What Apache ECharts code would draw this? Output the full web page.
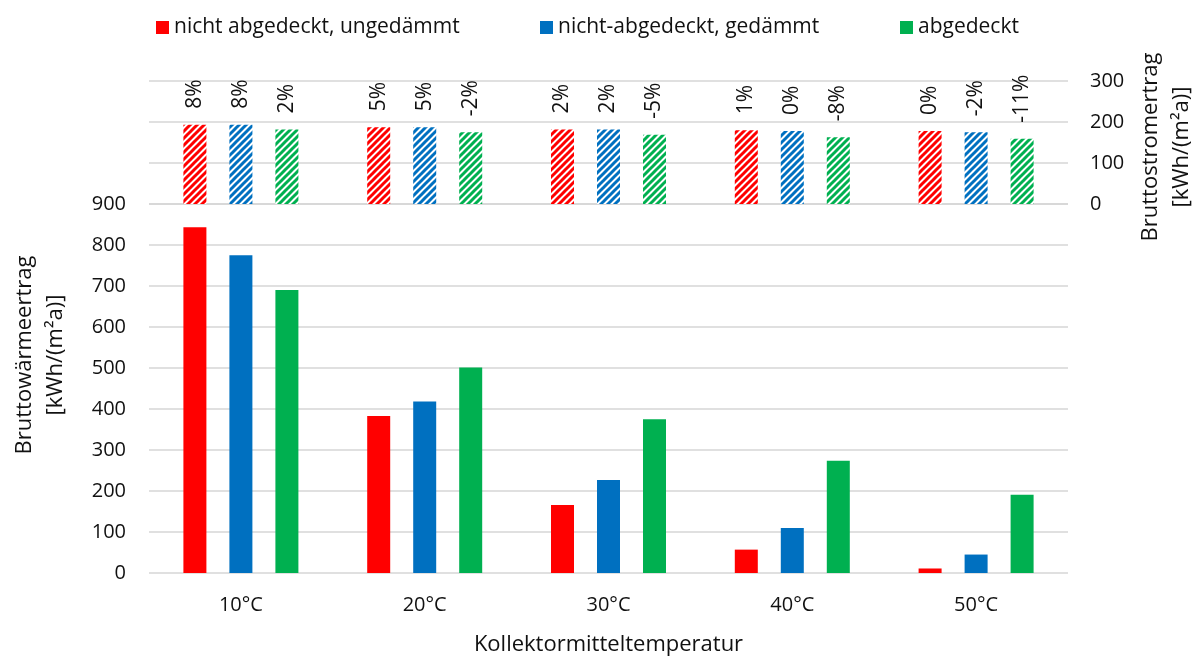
<!DOCTYPE html>
<html>
<head>
<meta charset="utf-8">
<script src="https://cdn.jsdelivr.net/npm/echarts@6/dist/echarts.min.js"></script>
<style>
  html, body { margin: 0; padding: 0; background: #fff; }
  #chart { width: 1198px; height: 657px; }
</style>
</head>
<body>
<div id="chart"></div>
<script>
// data
const categories = ["10°C", "20°C", "30°C", "40°C", "50°C"];
const names = ["nicht abgedeckt, ungedämmt", "nicht-abgedeckt, gedämmt", "abgedeckt"];
const colors = ["#ff0000", "#0070c0", "#00b050"];

// Bruttowärmeertrag [kWh/(m²a)]
const heatUncovBare = [843, 383, 166, 57, 11];
const heatUncovIns = [775, 418, 227, 110, 45];
const heatCovered = [690, 501, 375, 274, 191];

// Bruttostromertrag [kWh/(m²a)]
const elecUncovBare = [193, 187, 182, 180, 178];
const elecUncovIns = [193, 187, 182, 178, 175];
const elecCovered = [182, 175, 169, 163, 159];

// relative change labels
const pctUncovBare = ["8%", "5%", "2%", "1%", "0%"];
const pctUncovIns = ["8%", "5%", "2%", "0%", "-2%"];
const pctCovered = ["2%", "-2%", "-5%", "-8%", "-11%"];

const heatTicks = { min: 0, max: 900, interval: 100 };
const elecTicks = { min: 0, max: 300, interval: 100 };

const FONT = "Open Sans";
const gridColor = "#d6d6d6";

// diagonal hatch fill
function hatch(color) {
  const s = 7;
  const c = document.createElement("canvas");
  c.width = s;
  c.height = s;
  const g = c.getContext("2d");
  g.fillStyle = "#fff";
  g.fillRect(0, 0, s, s);
  g.strokeStyle = color;
  g.lineWidth = 3;
  g.beginPath();
  g.moveTo(-1, s + 1); g.lineTo(s + 1, -1);
  g.moveTo(-1, 1); g.lineTo(1, -1);
  g.moveTo(s - 1, s + 1); g.lineTo(s + 1, s - 1);
  g.stroke();
  return { image: c, repeat: "repeat" };
}

const heatData = [heatUncovBare, heatUncovIns, heatCovered];
const elecData = [elecUncovBare, elecUncovIns, elecCovered];
const pctData = [pctUncovBare, pctUncovIns, pctCovered];

const series = [];
heatData.forEach((d, i) => {
  series.push({
    name: names[i],
    type: "bar",
    xAxisIndex: 0,
    yAxisIndex: 0,
    barWidth: 23,
    barGap: "100%",
    data: d,
    itemStyle: { color: colors[i] },
  });
});
elecData.forEach((d, i) => {
  series.push({
    name: names[i],
    type: "bar",
    xAxisIndex: 1,
    yAxisIndex: 1,
    barWidth: 23,
    barGap: "100%",
    data: d,
    itemStyle: { color: hatch(colors[i]) },
    label: {
      show: true,
      position: "top",
      distance: 16,
      rotate: 90,
      align: "left",
      verticalAlign: "middle",
      fontFamily: FONT,
      fontSize: 21,
      color: "#111",
      formatter: (p) => pctData[i][p.dataIndex],
    },
  });
});

const legendBase = {
  top: 12,
  icon: "rect",
  itemWidth: 13,
  itemHeight: 13,
  textStyle: { fontFamily: FONT, fontSize: 21, color: "#111" },
};

const option = {
  animation: false,
  backgroundColor: "#fff",
  legend: [
    Object.assign({ left: 151, data: [names[0]] }, legendBase),
    Object.assign({ left: 535, data: [names[1]] }, legendBase),
    Object.assign({ left: 895, data: [names[2]] }, legendBase),
  ],
  grid: [
    { left: 149, right: 130, top: 204, height: 369, outerBoundsMode: "none" },
    { left: 149, right: 130, top: 81, height: 123, outerBoundsMode: "none" },
  ],
  xAxis: [
    {
      gridIndex: 0,
      type: "category",
      data: categories,
      axisLine: { show: false },
      axisTick: { show: false },
      axisLabel: { margin: 22, fontFamily: FONT, fontSize: 20, color: "#111" },
      name: "Kollektormitteltemperatur",
      nameLocation: "middle",
      nameGap: 61,
      nameTextStyle: { fontFamily: FONT, fontSize: 22, color: "#111" },
    },
    {
      gridIndex: 1,
      type: "category",
      data: categories,
      axisLine: { show: false },
      axisTick: { show: false },
      axisLabel: { show: false },
    },
  ],
  yAxis: [
    Object.assign({
      gridIndex: 0,
      type: "value",
      position: "left",
      axisLine: { show: false },
      axisTick: { show: false },
      axisLabel: { margin: 23, fontFamily: FONT, fontSize: 20, color: "#111" },
      splitLine: { lineStyle: { color: gridColor, width: 1.5 } },
    }, heatTicks),
    Object.assign({
      gridIndex: 1,
      type: "value",
      position: "right",
      axisLine: { show: false },
      axisTick: { show: false },
      axisLabel: { margin: 22, fontFamily: FONT, fontSize: 20, color: "#111" },
      splitLine: { lineStyle: { color: gridColor, width: 1.5 } },
    }, elecTicks),
  ],
  graphic: [
    {
      type: "text",
      x: 40,
      y: 355,
      rotation: Math.PI / 2,
      style: {
        text: "Bruttowärmeertrag\n[kWh/(m²a)]",
        fontFamily: FONT,
        fontSize: 22,
        lineHeight: 31,
        fill: "#111",
        align: "center",
        verticalAlign: "middle",
      },
    },
    {
      type: "text",
      x: 1166,
      y: 147,
      rotation: Math.PI / 2,
      style: {
        text: "Bruttostromertrag\n[kWh/(m²a)]",
        fontFamily: FONT,
        fontSize: 22,
        lineHeight: 31,
        fill: "#111",
        align: "center",
        verticalAlign: "middle",
      },
    },
  ],
  series: series,
};

const chart = echarts.init(document.getElementById("chart"));
chart.setOption(option);
</script>
</body>
</html>
